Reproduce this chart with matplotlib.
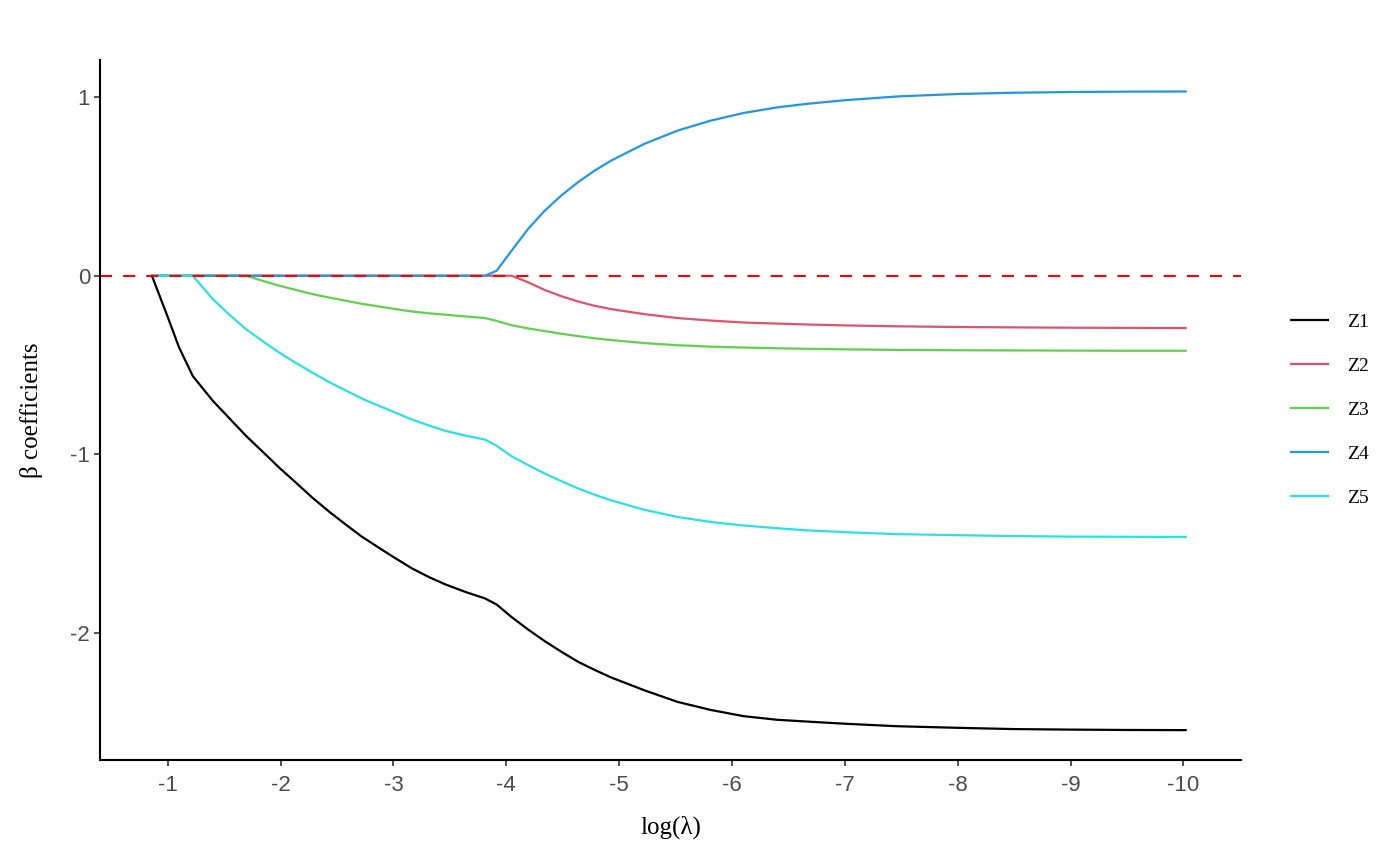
import numpy as np
import matplotlib
matplotlib.use('Agg')
import matplotlib.pyplot as plt

# log(lambda) grid along the path
log_lambda = [-0.86, -1.0, -1.1, -1.223, -1.4, -1.55, -1.694, -1.85, -1.988, -2.14,
              -2.282, -2.43, -2.577, -2.72, -2.871, -3.02, -3.165, -3.31, -3.459, -3.64,
              -3.812, -3.915, -4.047, -4.194, -4.341, -4.49, -4.635, -4.78, -4.929, -5.224,
              -5.518, -5.812, -6.106, -6.4, -6.665, -7.0, -7.46, -8.0, -8.5, -9.0,
              -9.5, -10.02]

z1 = [0, -0.23, -0.40, -0.562, -0.70, -0.80, -0.896, -0.99, -1.074, -1.16,
      -1.242, -1.32, -1.392, -1.46, -1.522, -1.582, -1.638, -1.685, -1.727, -1.77,
      -1.806, -1.84, -1.91, -1.98, -2.045, -2.105, -2.16, -2.205, -2.248, -2.32,
      -2.385, -2.43, -2.465, -2.485, -2.495, -2.507, -2.521, -2.530, -2.537, -2.540,
      -2.542, -2.543]
z2 = [0, 0, 0, 0, 0, 0, 0, 0, 0, 0,
      0, 0, 0, 0, 0, 0, 0, 0, 0, 0,
      0, 0, 0, -0.037, -0.08, -0.115, -0.144, -0.168, -0.187, -0.215,
      -0.237, -0.251, -0.262, -0.268, -0.273, -0.278, -0.283, -0.287, -0.289, -0.291,
      -0.292, -0.293]
z3 = [0, 0, 0, 0, 0, 0, 0, -0.03, -0.056, -0.08,
      -0.103, -0.122, -0.14, -0.157, -0.172, -0.187, -0.2, -0.21, -0.218, -0.228,
      -0.237, -0.253, -0.277, -0.295, -0.31, -0.325, -0.338, -0.35, -0.36, -0.377,
      -0.389, -0.397, -0.402, -0.406, -0.409, -0.412, -0.415, -0.417, -0.418, -0.419,
      -0.42, -0.42]
z4 = [0, 0, 0, 0, 0, 0, 0, 0, 0, 0,
      0, 0, 0, 0, 0, 0, 0, 0, 0, 0,
      0, 0.028, 0.14, 0.262, 0.364, 0.45, 0.523, 0.587, 0.644, 0.738,
      0.812, 0.868, 0.911, 0.942, 0.962, 0.982, 1.003, 1.017, 1.024, 1.028,
      1.030, 1.031]
z5 = [0, 0, 0, 0, -0.131, -0.22, -0.299, -0.37, -0.43, -0.49,
      -0.542, -0.595, -0.642, -0.687, -0.728, -0.767, -0.805, -0.837, -0.868, -0.895,
      -0.917, -0.952, -1.01, -1.06, -1.107, -1.15, -1.19, -1.225, -1.257, -1.31,
      -1.35, -1.378, -1.398, -1.413, -1.425, -1.435, -1.446, -1.452, -1.457, -1.46,
      -1.461, -1.462]

names = ['Z1', 'Z2', 'Z3', 'Z4', 'Z5']
colors = ['#000000', '#DF536B', '#61D04F', '#2297E6', '#28E2E5']
x_ticks = [-1, -2, -3, -4, -5, -6, -7, -8, -9, -10]
y_ticks = [1, 0, -1, -2]

serif = ['Liberation Serif', 'DejaVu Serif']
sans = ['Liberation Sans', 'DejaVu Sans']

fig = plt.figure(figsize=(14, 8.65), dpi=100)
ax = fig.add_axes([0.0714, 0.1214, 0.815, 0.8092])

for name, vals, col in zip(names, [z1, z2, z3, z4, z5], colors):
    ax.plot(log_lambda, vals, color=col, lw=1.6, label=name,
            solid_joinstyle='round')

ax.axhline(0, color='#FF0000', lw=1.5, dashes=(5.8, 5.3))

ax.set_xlim(-0.40, -10.51)
ax.set_ylim(-2.71, 1.207)
ax.set_xticks(x_ticks)
ax.set_xticklabels([str(t) for t in x_ticks])
ax.set_yticks(y_ticks)
ax.set_yticklabels([str(t) for t in y_ticks])

for s in ['top', 'right']:
    ax.spines[s].set_visible(False)
for s in ['left', 'bottom']:
    ax.spines[s].set_linewidth(1.5)
    ax.spines[s].set_color('black')

ax.tick_params(length=4, width=1.2, color='#333333', labelcolor='#4D4D4D',
               labelsize=16)
ax.tick_params(axis='x', pad=7)
ax.tick_params(axis='y', pad=3)
for lab in ax.get_xticklabels() + ax.get_yticklabels():
    lab.set_family(sans)

ax.set_xlabel('log(λ)', family=serif, fontsize=18, labelpad=14)
ax.set_ylabel('β coefficients', family=serif, fontsize=18, labelpad=20)

fig.legend(loc='center left', bbox_to_anchor=(0.922, 0.526), frameon=False,
           prop={'family': serif, 'size': 14}, handlelength=1.9,
           handletextpad=1.0, labelspacing=1.35, borderpad=0, borderaxespad=0)

fig.savefig('out.png', dpi=100)
